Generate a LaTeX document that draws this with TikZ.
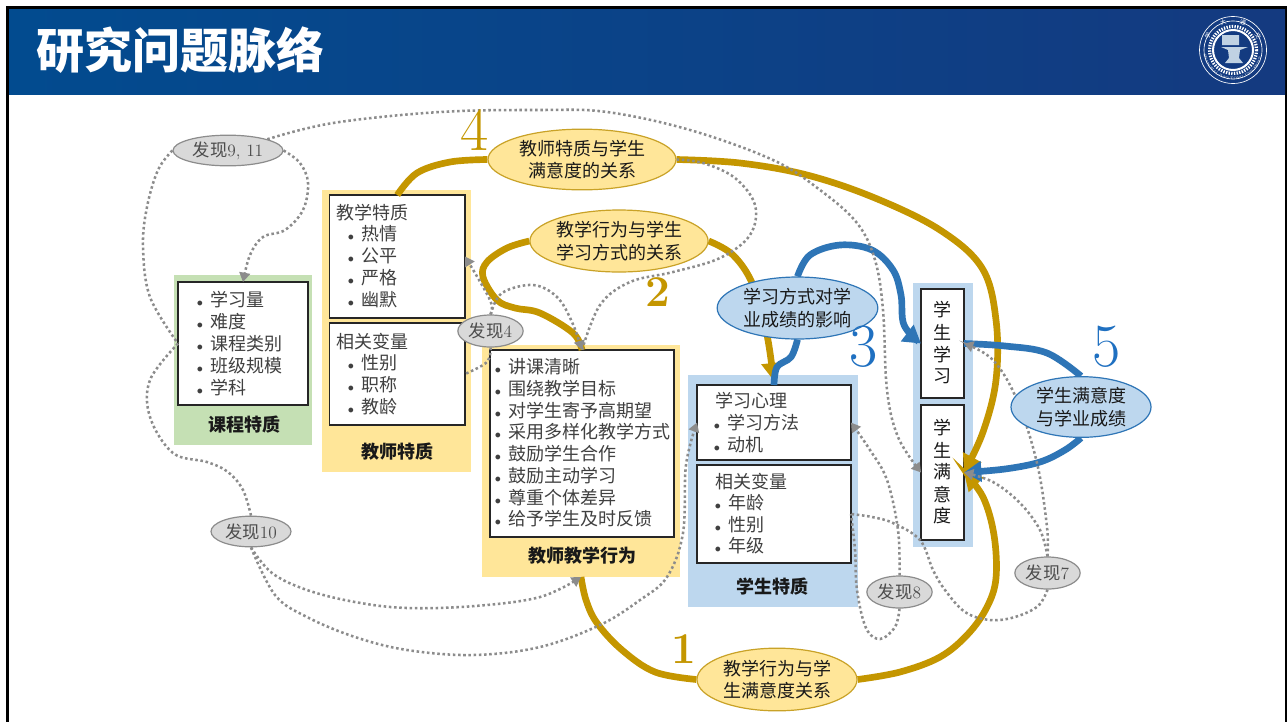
\documentclass[tikz,border=0pt]{standalone}
\usepackage{fontspec}
\newfontfamily\cjk{Noto Sans CJK SC}
\usetikzlibrary{arrows.meta,decorations.text,shapes.geometric}
\definecolor{gold}{HTML}{C49600}
\definecolor{goldedge}{HTML}{C9A227}
\definecolor{sun}{HTML}{FFE699}
\definecolor{sky}{HTML}{BDD7EE}
\definecolor{sea}{HTML}{2E75B6}
\definecolor{numblue}{HTML}{1F70C1}
\definecolor{leaf}{HTML}{C5E0B4}
\definecolor{headleft}{HTML}{024B8F}
\definecolor{headright}{HTML}{143A80}
\pgfdeclarelayer{top}
\pgfsetlayers{main,top}
\tikzset{
    panel/.style={inner sep=0,outer sep=0},
    whitebox/.style={draw=black!85,line width=1.2pt,fill=white,inner sep=0,outer sep=0},
    item/.style={anchor=west,inner sep=0,text=black!75,font=\cjk\fontsize{13.5}{16}\selectfont},
    caption/.style={inner sep=0,text=black!90,font=\cjk\bfseries\fontsize{13.5}{16}\selectfont},
    relation/.style={ellipse,inner sep=0,align=center,text=black!90,line width=0.9pt,font=\cjk\fontsize{13.5}{17}\selectfont},
    sunrel/.style={relation,fill=sun,draw=goldedge},
    skyrel/.style={relation,fill=sky,draw=sea},
    finding/.style={ellipse,inner sep=0,fill=black!15,draw=black!45,line width=0.9pt,text=black!70,font=\fontsize{13}{15}\selectfont},
    bignum/.style={inner sep=0,font=\fontsize{46}{46}\selectfont},
    boldnum/.style={inner sep=0,text=gold,font=\bfseries\fontsize{33}{33}\selectfont},
    goldline/.style={gold,line width=5pt,smooth,tension=0.6},
    sealine/.style={sea,line width=5pt,smooth,tension=0.6},
    dotline/.style={black!45,line width=1.9pt,dash pattern=on 1.9pt off 2pt,smooth,tension=0.6},
    bigtip/.style={-{Triangle[width=15pt,length=13pt]}},
    dottip/.style={-{Triangle[width=8pt,length=7pt]}}
}
% corners in reference pixels: style, name, x1, y1, x2, y2
\newcommand{\boxat}[6]{\node[#1,minimum width={(#5-#3)*0.75pt},minimum height={(#6-#4)*0.75pt}] (#2) at ({(#3+#5)/2},{(#4+#6)/2}) {};}
% a column of text lines: prefix, x, first y, pitch, lines
\newcommand{\bulletlist}[5]{\foreach \t [count=\i from 0] in {#5} \node[item] (#1\i) at (#2,{#3+#4*\i}) {\makebox[0pt][r]{$\scriptstyle\bullet$\hspace{5.5pt}}\t};}
\newcommand{\plainlist}[5]{\foreach \t [count=\i from 0] in {#5} \node[item] (#1\i) at (#2,{#3+#4*\i}) {\t};}

\begin{document}
\begin{tikzpicture}[x=0.75pt,y=-0.75pt]
  \useasboundingbox (0,0) rectangle (1287,722);

  % Slide frame and header
  \fill[black] (6,6) rectangle (1287,722);
  \fill[white] (9,94) rectangle (1285,722);
  \shade[left color=headleft,right color=headright] (9,9) rectangle (1285,94);
  \node[anchor=west,inner sep=0,text=white,font=\cjk\bfseries\fontsize{36}{40}\selectfont] (title) at (36,50) {研究问题脉络};

  % Seal
  \draw[white,line width=0.5pt] (1233,50) circle (33.5) (1233,50) circle (29);
  \draw[white,line width=2.4pt,dash pattern=on 1pt off 1pt] (1233,50) circle (23.5);
  \draw[white,line width=1.5pt] (1233,50) circle (20);
  \fill[white!75!headleft] (1222,35) rectangle (1239,45) (1221,47) -- (1248,47) -- (1240,50) -- (1239,58) -- (1243,63) -- (1225,63) -- (1229,58) -- (1228,50) -- cycle;
  \foreach \t/\a [count=\i] in {学/-150,大/-110,通/-70,交/-30}
    \node[inner sep=0,text=white,rotate={-\a-90},font=\cjk\fontsize{4.5}{5}\selectfont] (seal\i) at ({1233+29*cos(\a)},{50+29*sin(\a)}) {\t};
  \path[decorate,decoration={text along path,text color=white,text align=center,text={|\fontsize{2.6}{3}\selectfont|SHANGHAI JIAO TONG UNIVERSITY}}]
    plot[domain=168:12,samples=30] ({1233+29.5*cos(\x)},{50+29.5*sin(\x)});

  % Panels and white boxes
  \boxat{panel,fill=leaf}{Pcourse}{174}{275}{312}{445}
  \boxat{panel,fill=sun}{Pteacher}{322}{190}{471}{472}
  \boxat{panel,fill=sun}{Pbeh}{482}{345}{680}{577}
  \boxat{panel,fill=sky}{Pstud}{688}{375}{858}{607}
  \boxat{panel,fill=sky}{Pout}{913}{283}{973}{547}
  \boxat{whitebox}{Bcourse}{178}{282}{308}{405}
  \boxat{whitebox}{Bquality}{329.5}{195}{465}{318}
  \boxat{whitebox}{Bvars}{329.5}{323}{465}{425}
  \boxat{whitebox}{Bbeh}{490}{350}{674}{537}
  \boxat{whitebox}{Bpsy}{697}{385}{851}{460}
  \boxat{whitebox}{Bsvars}{697}{465}{851}{563}
  \boxat{whitebox}{Blearn}{921}{289}{964}{398}
  \boxat{whitebox}{Bsat}{921}{405}{964}{540}

  % Box texts
  \bulletlist{tc}{210}{300}{21.8}{学习量,难度,课程类别,班级规模,学科}
  \plainlist{tq}{336}{213}{0}{教学特质}
  \bulletlist{tr}{361}{234}{22}{热情,公平,严格,幽默}
  \plainlist{tv}{336}{342}{0}{相关变量}
  \bulletlist{tw}{361}{363}{22}{性别,职称,教龄}
  \bulletlist{tb}{508}{367}{21.7}{讲课清晰,围绕教学目标,对学生寄予高期望,采用多样化教学方式,鼓励学生合作,鼓励主动学习,尊重个体差异,给予学生及时反馈}
  \plainlist{tp}{715}{401}{0}{学习心理}
  \bulletlist{ts}{727}{423}{22}{学习方法,动机}
  \plainlist{tx}{715}{482}{0}{相关变量}
  \bulletlist{ty}{728}{503}{21.5}{年龄,性别,年级}
  \foreach \t [count=\i from 0] in {学,生,学,习}
    \node[caption,font=\cjk\fontsize{13.5}{16}\selectfont] (tl\i) at (942,{310+22.2*\i}) {\t};
  \foreach \t [count=\i from 0] in {学,生,满,意,度}
    \node[caption,font=\cjk\fontsize{13.5}{16}\selectfont] (tm\i) at (942,{428+22*\i}) {\t};
  \node[caption] (Ccourse) at (244,425) {课程特质};
  \node[caption] (Cteacher) at (397,452) {教师特质};
  \node[caption] (Cbeh) at (582,556) {教师教学行为};
  \node[caption] (Cstud) at (772,587) {学生特质};

  % Relation and finding ellipses, above all the lines
  \begin{pgfonlayer}{top}
    \node[sunrel,minimum width=141pt,minimum height=45.5pt] (Rtsat) at (582,159.5) {教师特质与学生\\满意度的关系};
    \node[sunrel,minimum width=133.5pt,minimum height=46.5pt] (Rbeh) at (619,241) {教学行为与学生\\学习方式的关系};
    \node[skyrel,minimum width=120.5pt,minimum height=46.5pt] (Rsty) at (797.5,308) {学习方式对学\\业成绩的影响};
    \node[skyrel,minimum width=105pt,minimum height=45.5pt] (Rsat) at (1081,407) {学生满意度\\与学业成绩};
    \node[sunrel,minimum width=120pt,minimum height=47pt] (Rbsat) at (777,679.5) {教学行为与学\\生满意度关系};
    \node[finding,minimum width=82.5pt,minimum height=23pt] (F911) at (228,150.5) {{\cjk 发现}9, 11};
    \node[finding,minimum width=49pt,minimum height=24pt] (F4) at (490.5,331) {{\cjk 发现}4};
    \node[finding,minimum width=60pt,minimum height=23pt] (F10) at (251,531.5) {{\cjk 发现}10};
    \node[finding,minimum width=49pt,minimum height=24pt] (F8) at (899.5,592) {{\cjk 发现}8};
    \node[finding,minimum width=49pt,minimum height=24pt] (F7) at (1047.5,573) {{\cjk 发现}7};
    \node[bignum,text=gold] (N4) at (475,130) {4};
    \node[boldnum] (N2) at (658,292) {2};
    \node[boldnum] (N1) at (684,649) {1};
    \node[bignum,text=numblue] (N3) at (864,347) {3};
    \node[bignum,text=numblue] (N5) at (1107,347) {5};
  \end{pgfonlayer}

  % Gold lines
  \draw[goldline] plot coordinates {(Bquality.north) (417,173) (450,162) (Rtsat.west)};
  \draw[goldline,bigtip] plot coordinates {(Rtsat.east) (740,163) (807,175) (875,198) (940,230) (982,268) (996,320) (996,380) (983,432) (Bsat.east)};
  \draw[goldline] plot coordinates {(Rbeh.west) (507,248) (487,262) (483,277) (497,300) (515,308) (540,313) (573,333) (Bbeh.north)};
  \draw[goldline,bigtip,shorten >=3.5pt] plot coordinates {(Rbeh.east) (733,255) (753,285) (767,335) (Bpsy.north)};
  \draw[goldline] plot coordinates {(Rbsat.west) (655,672) (622,650) (597,623) (586,600) (Pbeh.south)};
  \draw[goldline,bigtip] plot coordinates {(Rbsat.east) (900,672) (940,657) (968,634) (987,607) (996,578) (994,535) (983,497) (Bsat.east)};

  % Blue lines
  \draw[sealine,bigtip] plot coordinates {(Rsty.north) (810,255) (840,245) (872,250) (893,270) (901,295) (904,325) (Blearn.west)};
  \draw[sealine] plot coordinates {(Rsty.south) (791,357) (777,367) (Bpsy.north)};
  \draw[sealine] plot coordinates {(Rsat.north) (1047,353) (1005,346) (Blearn.east)};
  \draw[sealine,bigtip] plot coordinates {(Rsat.south) (1065,450) (1040,462) (1005,469) (Bsat.east)};

  % Dotted lines
  \draw[dotline,dottip] plot coordinates {(F911.north east) (333,123) (440,112) (540,110) (607,112) (690,130) (773,160) (820,190) (857,223) (875,260) (883,310) (887,390) (898,437) (Bsat.west)};
  \draw[dotline] plot coordinates {(F911.west) (158,170) (147,207) (143,247) (150,297) (Bcourse.west)};
  \draw[dotline,dottip] plot coordinates {(F911.east) (300,163) (308,183) (303,210) (285,230) (263,237) (250,255) (Bcourse.north)};
  \draw[dotline] plot coordinates {(Rtsat.east) (703,163) (735,178) (755,205) (750,235) (720,258) (673,272) (630,282) (600,305) (Bbeh.north)};
  \draw[dotline,dottip] plot coordinates {(F4.north) (490,300) (Bquality.east)};
  \draw[dotline,dottip] plot coordinates {(F4.north) (502,293) (533,285) (557,297) (572,322) (Bbeh.north)};
  \draw[dotline] plot coordinates {(F4.south) (487,362) (Bvars.east)};
  \draw[dotline] plot coordinates {(F10.north) (243,490) (228,472) (207,462) (173,453) (150,417) (150,380) (Bcourse.west)};
  \draw[dotline,dottip] plot coordinates {(F10.south) (272,573) (307,590) (355,602) (407,608) (475,606) (540,597) (Pbeh.south)};
  \draw[dotline,dottip] plot coordinates {(F10.south) (275,595) (307,617) (355,637) (407,650) (473,655) (540,647) (600,625) (640,600) (667,577) (683,533) (686,465) (Bpsy.west)};
  \draw[dotline,dottip] plot coordinates {(F8.north) (898,530) (887,480) (870,450) (Bpsy.east)};
  \draw[dotline] plot coordinates {(F8.south) (895,627) (880,639) (866,628) (857,590) (855,550) (Bsvars.east)};
  \draw[dotline,dottip] plot coordinates {(F7.north) (1047,527) (1037,463) (1017,400) (993,360) (Blearn.east)};
  \draw[dotline,dottip] plot coordinates {(F7.north) (1040,530) (1020,503) (993,482) (Bsat.east)};
  \draw[dotline] plot coordinates {(F7.south) (1038,606) (1015,617) (990,620) (965,612) (945,590) (933,570) (920,540) (893,523) (872,517) (Bsvars.east)};
\end{tikzpicture}
\end{document}
